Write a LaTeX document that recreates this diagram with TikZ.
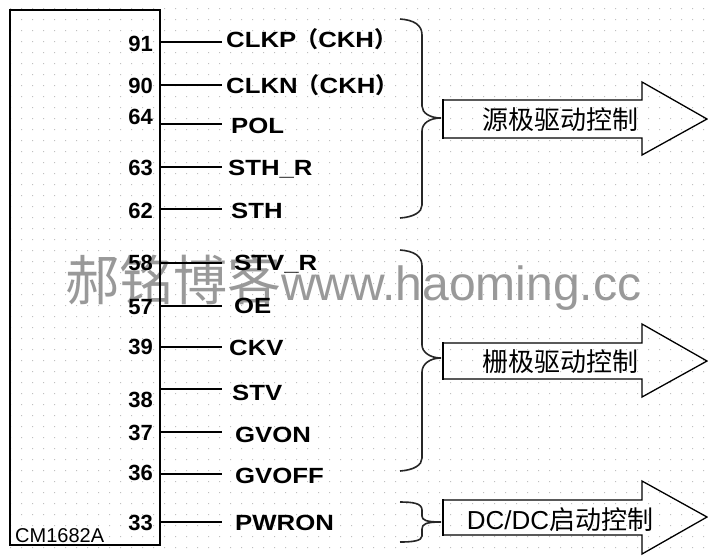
\documentclass[tikz,border=0pt]{standalone}
\usepackage{fontspec}
\setmainfont{Liberation Sans}
\newfontfamily\cjk{Noto Sans CJK SC}
\newfontfamily\sigfont[FakeStretch=1.17]{Liberation Sans}

\begin{document}
\begin{tikzpicture}[
  x=1pt, y=-1pt,
  every node/.style={inner sep=0pt},
  pinno/.style={font=\bfseries\fontsize{22}{22}\selectfont, anchor=base east},
  signal/.style={font=\sigfont\bfseries\fontsize{22}{22}\selectfont, anchor=base west},
  chip/.style={draw, line width=2.5pt, minimum width=150pt, minimum height=535pt},
  wire/.style={line width=1.3pt},
  brace/.style={line width=1.6pt, black!85},
  bigarrow/.style={line width=1.3pt, line join=miter},
  ctrl/.style={font=\cjk\fontsize{26}{26}\selectfont},
  dot/.style={fill=black!25}
]
\useasboundingbox (0,0) rectangle (708,558);

% ---- background dots and watermark ----
\fill[dot] \foreach \x in {10,21,...,705} {\foreach \y in {8,19,...,556} {(\x,\y) rectangle ++(1.2,1.2)}};
\node[font=\fontsize{48}{48}\selectfont, text=black!40, anchor=base west] (mark) at (65,300)
  {{\cjk\fontsize{54}{54}\selectfont 郝铭博客}www.haoming.cc};

% ---- the chip ----
\node[chip] (chip) at (85,277.5) {};
\node[font=\fontsize{20}{20}\selectfont, anchor=base west] (partno) at (15,542) {CM1682A};

% ---- source driver pins ----
\node[pinno] (n91) at (153,51) {91};
\coordinate (w91) at (222,42);
\draw[wire] (chip.east |- w91) -- (w91);
\node[signal] (s91) at (226,47) {CLKP{\cjk（}CKH{\cjk）}};

\node[pinno] (n90) at (153,93) {90};
\coordinate (w90) at (222,85);
\draw[wire] (chip.east |- w90) -- (w90);
\node[signal] (s90) at (226,93) {CLKN{\cjk（}CKH{\cjk）}};

\node[pinno] (n64) at (153,124) {64};
\coordinate (w64) at (222,124);
\draw[wire] (chip.east |- w64) -- (w64);
\node[signal] (s64) at (231,133) {POL};

\node[pinno] (n63) at (153,175) {63};
\coordinate (w63) at (222,167);
\draw[wire] (chip.east |- w63) -- (w63);
\node[signal] (s63) at (228,175) {STH\_R};

\node[pinno] (n62) at (153,218) {62};
\coordinate (w62) at (222,209);
\draw[wire] (chip.east |- w62) -- (w62);
\node[signal] (s62) at (231,218) {STH};

% ---- gate driver pins ----
\node[pinno] (n58) at (153,270) {58};
\coordinate (w58) at (222,263);
\draw[wire] (chip.east |- w58) -- (w58);
\node[signal] (s58) at (234,270) {STV\_R};

\node[pinno] (n57) at (153,314) {57};
\coordinate (w57) at (222,306);
\draw[wire] (chip.east |- w57) -- (w57);
\node[signal] (s57) at (234,313) {OE};

\node[pinno] (n39) at (153,354) {39};
\coordinate (w39) at (222,347);
\draw[wire] (chip.east |- w39) -- (w39);
\node[signal] (s39) at (229,355) {CKV};

\node[pinno] (n38) at (153,407) {38};
\coordinate (w38) at (222,389);
\draw[wire] (chip.east |- w38) -- (w38);
\node[signal] (s38) at (232,400) {STV};

\node[pinno] (n37) at (153,440) {37};
\coordinate (w37) at (222,432);
\draw[wire] (chip.east |- w37) -- (w37);
\node[signal] (s37) at (235,442) {GVON};

\node[pinno] (n36) at (153,480) {36};
\coordinate (w36) at (222,474);
\draw[wire] (chip.east |- w36) -- (w36);
\node[signal] (s36) at (235,483) {GVOFF};

% ---- power pin ----
\node[pinno] (n33) at (153,530) {33};
\coordinate (w33) at (222,522);
\draw[wire] (chip.east |- w33) -- (w33);
\node[signal] (s33) at (235,530) {PWRON};

% ---- braces ----
\draw[brace] (400,19) .. controls (414,20) and (422,25) .. (422,35) -- (422,106)
  .. controls (422,113) and (430,118) .. (441,118) .. controls (430,118) and (422,123) .. (422,131)
  -- (422,205) .. controls (422,212) and (414,217) .. (400,218);
\draw[brace] (400,250) .. controls (414,251) and (422,256) .. (422,266) -- (422,345)
  .. controls (422,352) and (430,358) .. (441,358) .. controls (430,358) and (422,364) .. (422,372)
  -- (422,458) .. controls (422,465) and (414,470) .. (400,471);
\draw[brace] (400,502) .. controls (412,502) and (422,503) .. (422,510) -- (422,516)
  .. controls (422,520) and (426,522) .. (441,522) .. controls (426,522) and (422,524) .. (422,529)
  -- (422,536) .. controls (422,541) and (412,542) .. (400,542);

% ---- arrows ----
\draw[bigarrow] (443,100) -- (642,100) -- (642,82) -- (707,119) -- (642,155) -- (642,138) -- (443,138);
\draw[line width=2.5pt] (443,99) -- (443,139);
\node[ctrl] (srcctl) at (560,120) {源极驱动控制};

\draw[bigarrow] (443,343) -- (642,343) -- (642,324) -- (707,361) -- (642,397) -- (642,379) -- (443,379);
\draw[line width=2.5pt] (443,342) -- (443,380);
\node[ctrl] (gatectl) at (560,362) {栅极驱动控制};

\draw[bigarrow] (443,500) -- (642,500) -- (642,481) -- (707,517) -- (642,554) -- (642,535) -- (443,535);
\draw[line width=2.5pt] (443,499) -- (443,536);
\node[ctrl] (dcctl) at (560,520) {{\fontsize{26}{26}\selectfont\rmfamily DC/DC}启动控制};

\end{tikzpicture}
\end{document}
